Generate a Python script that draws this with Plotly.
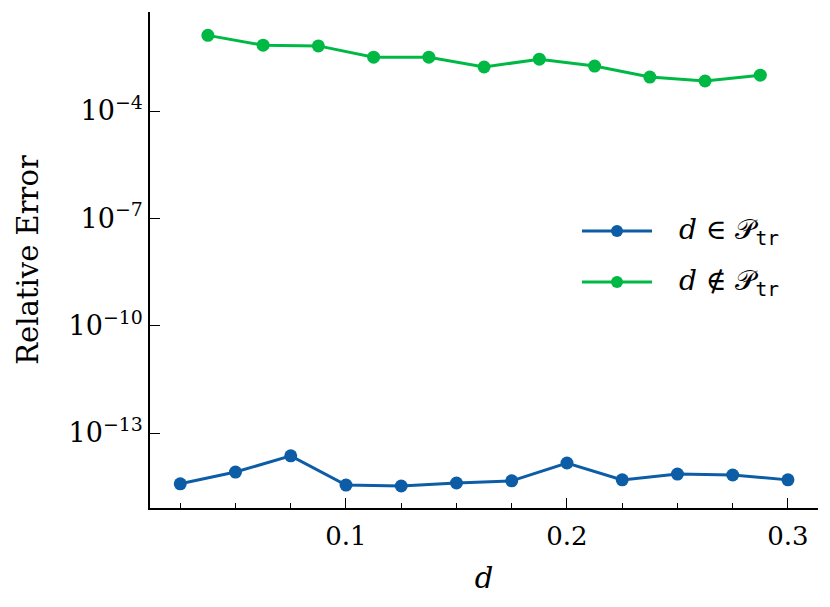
import plotly.graph_objects as go

# Data
d_in = [0.025, 0.05, 0.075, 0.1, 0.125, 0.15, 0.175, 0.2, 0.225, 0.25, 0.275, 0.3]
err_in = [3.8e-15, 8.1e-15, 2.3e-14, 3.5e-15, 3.3e-15, 4.0e-15, 4.6e-15, 1.45e-14,
          4.9e-15, 7.1e-15, 6.7e-15, 4.9e-15]
d_out = [0.0375, 0.0625, 0.0875, 0.1125, 0.1375, 0.1625, 0.1875, 0.2125, 0.2375, 0.2625, 0.2875]
err_out = [1.3e-2, 6.9e-3, 6.6e-3, 3.2e-3, 3.2e-3, 1.7e-3, 2.8e-3, 1.8e-3, 8.9e-4, 6.9e-4, 1.0e-3]

y_tickvals = [1e-4, 1e-7, 1e-10, 1e-13]
y_ticktext = ["10<sup>\u22124</sup>", "10<sup>\u22127</sup>", "10<sup>\u221210</sup>", "10<sup>\u221213</sup>"]
x_tickvals = [0.1, 0.2, 0.3]
x_ticktext = ["0.1", "0.2", "0.3"]

BLUE = "#0C5DA5"
GREEN = "#00B945"
FONT = "DejaVu Serif"

fig = go.Figure()
fig.add_trace(go.Scatter(x=d_in, y=err_in, mode="lines+markers",
                         line=dict(color=BLUE, width=3),
                         marker=dict(color=BLUE, size=13), showlegend=False))
fig.add_trace(go.Scatter(x=d_out, y=err_out, mode="lines+markers",
                         line=dict(color=GREEN, width=3),
                         marker=dict(color=GREEN, size=13), showlegend=False))

W, H = 830, 607
L, R, T, B = 150, 818, 12, 508

def px(x):
    return (x - L) / (R - L)

def py(y):
    return (B - y) / (B - T)

mono = "<span style=\"font-family:'DejaVu Sans Mono'\">tr</span>"
legend_items = [(BLUE, 231, "<i>d</i> \u2208 \U0001D4AB<sub>" + mono + "</sub>"),
                (GREEN, 282, "<i>d</i> \u2209 \U0001D4AB<sub>" + mono + "</sub>")]
shapes = []
annotations = []
for col, yy, txt in legend_items:
    shapes.append(dict(type="line", xref="paper", yref="paper",
                       x0=px(582), x1=px(652), y0=py(yy), y1=py(yy),
                       line=dict(color=col, width=3)))
    r = 6
    shapes.append(dict(type="circle", xref="paper", yref="paper",
                       x0=px(617 - r), x1=px(617 + r), y0=py(yy + r), y1=py(yy - r),
                       fillcolor=col, line=dict(color=col, width=0)))
    annotations.append(dict(xref="paper", yref="paper", x=px(677), y=py(yy),
                            xanchor="left", yanchor="middle", text=txt, showarrow=False,
                            font=dict(family=FONT, size=28, color="black")))

fig.update_layout(
    width=W, height=H,
    margin=dict(l=L, r=W - R, t=T, b=H - B, pad=0, autoexpand=False),
    plot_bgcolor="white", paper_bgcolor="white",
    font=dict(family=FONT, size=26, color="black"),
    shapes=shapes, annotations=annotations,
    showlegend=False,
)
fig.update_xaxes(
    range=[0.01131, 0.3136], automargin=False,
    tickvals=x_tickvals, ticktext=x_ticktext,
    ticks="inside", ticklen=10, tickwidth=1.4, tickcolor="black",
    minor=dict(dtick=0.025, tick0=0, ticks="inside", ticklen=5, tickwidth=1.2, tickcolor="black"),
    showline=True, linecolor="black", linewidth=1.6,
    showgrid=False, zeroline=False,
    tickfont=dict(family=FONT, size=26),
    ticklabelstandoff=4,
    title=dict(text="<i>d</i>", font=dict(family=FONT, size=29), standoff=18),
)
fig.update_yaxes(
    type="log", range=[-15.096, -1.233], automargin=False,
    tickvals=y_tickvals, ticktext=y_ticktext,
    ticks="inside", ticklen=10, tickwidth=1.4, tickcolor="black",
    showline=True, linecolor="black", linewidth=1.6,
    showgrid=False, zeroline=False,
    tickfont=dict(family=FONT, size=27),
    title=dict(text="Relative Error", font=dict(family=FONT, size=29), standoff=21),
)

fig.write_html("out.html", config={"displayModeBar": False},
               post_script="document.body.style.margin='0px';")
